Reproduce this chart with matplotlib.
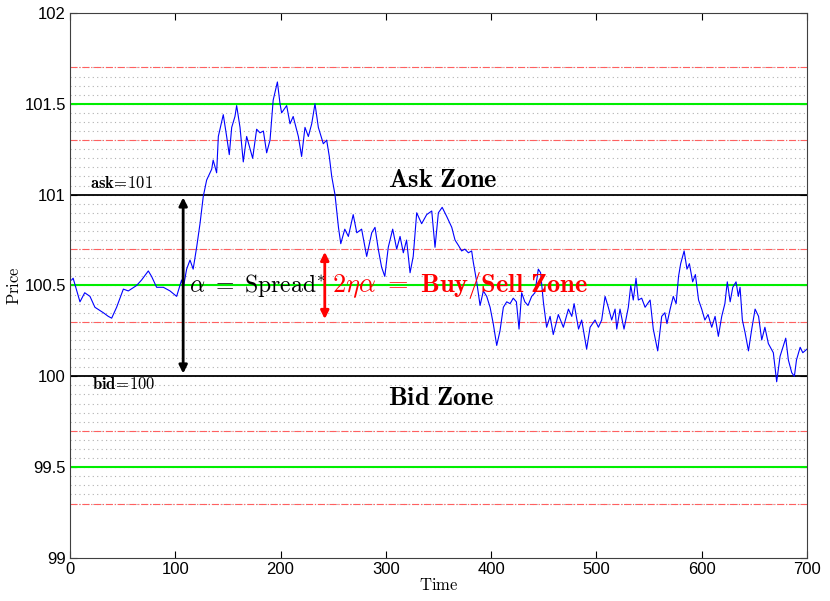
import numpy as np
import matplotlib
matplotlib.use('Agg')
from matplotlib import pyplot as plt

plt.rcParams['mathtext.fontset'] = 'cm'
plt.rcParams['font.family'] = ['Liberation Sans', 'DejaVu Sans']

# price path (time, price)
time = [1.6, 3, 9.5, 14, 19, 23.7, 31.7, 36.4, 39.6, 44.3, 50.7, 55.4, 63.3, 68, 74.4, 77.5,
        82.3, 88.7, 95, 101.3, 106, 107.7, 110.8, 114, 117, 120.3, 123.5, 126.6, 129.8, 134.6,
        136, 139.3, 140.9, 144, 145.6, 148.8, 151.3, 153.6, 156.7, 158.3, 161.5, 164.6, 167.8,
        173.5, 177.3, 180.5, 183.7, 186.8, 190, 193, 197, 199.5, 201, 205.8, 209, 212, 216.9,
        220, 223.2, 226.4, 229.6, 232.7, 235.9, 240.6, 243.8, 246.3, 248.6, 251.7, 255, 257.2,
        261, 264.4, 269, 272.4, 277, 281.8, 286.6, 289.7, 292.8, 296, 299, 302.3, 306.5, 310.3,
        313.5, 316.6, 319.7, 323, 326, 329.3, 334, 338.8, 343.6, 346.7, 349.9, 353.5, 357.8,
        362.6, 365.7, 369, 372, 375, 378.4, 381.5, 383, 386.3, 389.5, 392.6, 395.8, 399, 402,
        405.3, 408.4, 411.6, 414.8, 418, 421, 424, 426.5, 429, 432, 435, 438.5, 441.6, 444.8,
        447, 449.6, 452.7, 456, 459, 463.8, 468.6, 473.4, 476.6, 478.8, 483, 486, 490.7, 494,
        498.7, 501.9, 505, 508.2, 511.3, 514.5, 517.7, 519.3, 522.4, 526.2, 530.3, 532.6, 535,
        537.6, 539.8, 543, 546.2, 551, 554, 558.2, 562, 565, 567, 570, 573, 575.7, 578, 580,
        583.3, 586, 588.3, 591.4, 594, 597, 600, 603, 606, 609.5, 612.7, 615.8, 619, 622, 624.3,
        627, 629.5, 632.6, 634.8, 636.4, 638.6, 641.2, 644.4, 647.5, 650.7, 654, 657, 660,
        663.3, 668, 671.2, 674.4, 677.6, 679.8, 682.3, 685.5, 688, 690, 693.5, 696, 700]
price = [100.53, 100.54, 100.41, 100.46, 100.44, 100.38, 100.35, 100.33, 100.32, 100.38, 100.48,
         100.47, 100.50, 100.53, 100.58, 100.55, 100.49, 100.49, 100.47, 100.44, 100.53, 100.49,
         100.59, 100.64, 100.59, 100.71, 100.84, 100.99, 101.08, 101.14, 101.19, 101.12, 101.32,
         101.40, 101.44, 101.32, 101.22, 101.37, 101.43, 101.49, 101.37, 101.18, 101.32, 101.20,
         101.36, 101.34, 101.35, 101.23, 101.30, 101.52, 101.62, 101.50, 101.45, 101.49, 101.39,
         101.43, 101.32, 101.21, 101.37, 101.32, 101.39, 101.50, 101.37, 101.28, 101.30, 101.21,
         101.10, 101.00, 100.82, 100.73, 100.81, 100.77, 100.89, 100.79, 100.81, 100.66, 100.79,
         100.82, 100.70, 100.60, 100.55, 100.71, 100.81, 100.70, 100.77, 100.68, 100.75, 100.57,
         100.66, 100.90, 100.84, 100.89, 100.91, 100.71, 100.90, 100.93, 100.88, 100.82, 100.75,
         100.72, 100.69, 100.70, 100.68, 100.69, 100.63, 100.52, 100.39, 100.47, 100.44, 100.38,
         100.29, 100.17, 100.25, 100.38, 100.41, 100.40, 100.43, 100.41, 100.26, 100.46, 100.41,
         100.39, 100.44, 100.46, 100.59, 100.57, 100.41, 100.27, 100.33, 100.23, 100.34, 100.27,
         100.37, 100.33, 100.40, 100.26, 100.31, 100.15, 100.27, 100.31, 100.27, 100.31, 100.44,
         100.38, 100.31, 100.37, 100.26, 100.37, 100.26, 100.38, 100.50, 100.42, 100.54, 100.42,
         100.43, 100.38, 100.42, 100.26, 100.14, 100.33, 100.35, 100.29, 100.37, 100.44, 100.40,
         100.55, 100.62, 100.69, 100.59, 100.62, 100.52, 100.56, 100.42, 100.37, 100.31, 100.34,
         100.27, 100.33, 100.22, 100.33, 100.40, 100.52, 100.41, 100.49, 100.52, 100.44, 100.49,
         100.31, 100.24, 100.14, 100.26, 100.37, 100.33, 100.20, 100.27, 100.18, 100.13, 99.97,
         100.11, 100.17, 100.21, 100.09, 100.02, 100.00, 100.09, 100.16, 100.13, 100.15]

bid = 100
ask = 101
green_levels = [99.5, 100.5, 101.5]
red_levels = [99.3, 99.7, 100.3, 100.7, 101.3, 101.7]
grid_levels = np.arange(99.3, 101.70001, 0.05)

fig = plt.figure(figsize=(8.3, 6.01), dpi=100)
ax = fig.add_axes([0.0843, 0.0715, 0.888, 0.907])

for g in grid_levels:
    ax.axhline(g, color='#b0b0b0', ls=(0, (1, 3)), lw=0.8, zorder=1)
for r in red_levels:
    ax.axhline(r, color='#ff6060', ls='-.', lw=0.8, zorder=2)
for g in green_levels:
    ax.axhline(g, color='#00ee00', lw=1.5, zorder=2)
ax.axhline(bid, color='black', lw=1.3, zorder=2)
ax.axhline(ask, color='black', lw=1.3, zorder=2)

ax.plot(time, price, color='#0000ff', lw=0.8, zorder=3)

# spread arrows
ax.annotate('', xy=(107.5, ask), xytext=(107.5, bid),
            arrowprops=dict(arrowstyle='<|-|>', color='black', lw=2, mutation_scale=12), zorder=4)
ax.annotate('', xy=(242, 100.7), xytext=(242, 100.3),
            arrowprops=dict(arrowstyle='<|-|>', color='red', lw=2, mutation_scale=12), zorder=4)

ax.text(113, 100.5, r'$\alpha\ =\ \mathrm{Spread}^{*}$', fontsize=17, va='center', zorder=5)
ax.text(249, 100.5, r'$2\eta\alpha\ =\ \mathbf{Buy/Sell\ Zone}$', fontsize=19, color='red',
        va='center', zorder=5)
ax.text(354, 101.08, r'$\mathbf{Ask\ Zone}$', fontsize=19, ha='center', va='center', zorder=5)
ax.text(352, 99.88, r'$\mathbf{Bid\ Zone}$', fontsize=19, ha='center', va='center', zorder=5)
ax.text(19, 101.02, r'$\mathbf{ask}\!\mathbf{=}\!\mathbf{101}$', fontsize=12, va='bottom', zorder=5)
ax.text(21, 99.96, r'$\mathbf{bid}\!\mathbf{=}\!\mathbf{100}$', fontsize=12, va='center', zorder=5)

ax.set_xlim(0, 700)
ax.set_ylim(99, 102)
ax.set_xticks(range(0, 701, 100))
ax.set_yticks([99, 99.5, 100, 100.5, 101, 101.5, 102])
ax.set_yticklabels(['99', '99.5', '100', '100.5', '101', '101.5', '102'])
ax.tick_params(direction='in', top=True, right=True, labelsize=12, length=5, pad=3)
ax.set_xlabel(r'$\mathrm{Time}$', fontsize=12, labelpad=0)
ax.set_ylabel(r'$\mathrm{Price}$', fontsize=12, labelpad=2)
for s in ax.spines.values():
    s.set_color('#404040')

plt.savefig('out.png', dpi=100)
